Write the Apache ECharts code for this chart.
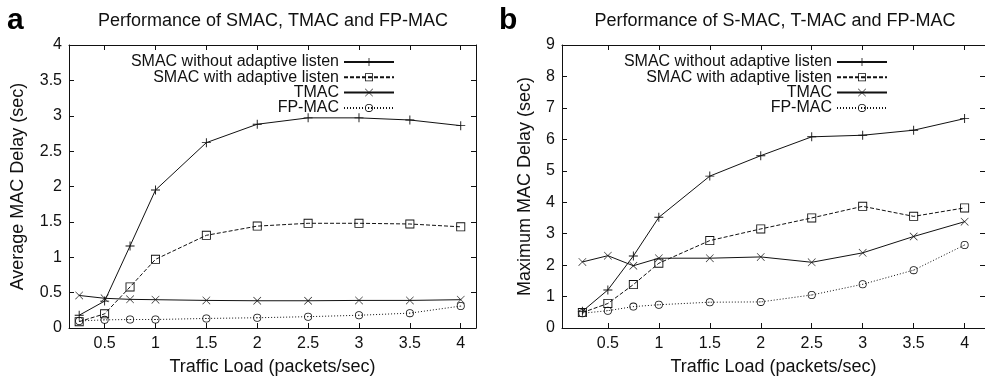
<!DOCTYPE html>
<html>
<head>
<meta charset="utf-8">
<script src="https://cdn.jsdelivr.net/npm/echarts@6/dist/echarts.min.js"></script>
<style>
  html, body { margin: 0; padding: 0; background: #fff; }
  #chart { width: 985px; height: 381px; }
</style>
</head>
<body>
<div id="chart"></div>
<script>
const xLoad = [0.25, 0.5, 0.75, 1, 1.5, 2, 2.5, 3, 3.5, 4];
const xTicks = [0.5, 1, 1.5, 2, 2.5, 3, 3.5, 4];

// panel a: average delay
const avgSmacNoAL = [0.18, 0.38, 1.16, 1.95, 2.62, 2.88, 2.97, 2.97, 2.94, 2.86];
const avgSmacAL = [0.09, 0.2, 0.58, 0.97, 1.31, 1.44, 1.48, 1.48, 1.47, 1.43];
const avgTmac = [0.46, 0.42, 0.405, 0.4, 0.39, 0.385, 0.385, 0.39, 0.39, 0.4];
const avgFpmac = [0.1, 0.115, 0.12, 0.12, 0.135, 0.145, 0.16, 0.18, 0.21, 0.31];

// panel b: maximum delay
const maxSmacNoAL = [0.53, 1.21, 2.29, 3.52, 4.83, 5.48, 6.08, 6.13, 6.29, 6.66];
const maxSmacAL = [0.49, 0.78, 1.38, 2.06, 2.78, 3.15, 3.5, 3.87, 3.55, 3.82];
const maxTmac = [2.1, 2.3, 1.98, 2.22, 2.22, 2.26, 2.09, 2.39, 2.91, 3.38];
const maxFpmac = [0.47, 0.55, 0.68, 0.74, 0.82, 0.83, 1.05, 1.39, 1.84, 2.64];

const seriesNames = [
  "SMAC without adaptive listen",
  "SMAC with adaptive listen",
  "TMAC",
  "FP-MAC",
];

const FONT = "Liberation Sans, Arial, sans-serif";
const INK = "#111";

// gnuplot-like point shapes, drawn as thin filled outlines
const SYM_PLUS = "path://M9,0H11V9H20V11H11V20H9V11H0V9H9Z";
const SYM_BOX = "path://M0,0H20V20H0Z M2,2V18H18V2Z";
const SYM_CROSS = "path://M0,1L1,0L10,9L19,0L20,1L11,10L20,19L19,20L10,11L1,20L0,19L9,10Z";
const SYM_CIRC = "path://M10,0A10,10 0 1,1 10,20A10,10 0 1,1 10,0Z M10,2A8,8 0 1,0 10,18A8,8 0 1,0 10,2Z M9,9H11V11H9Z";

const styles = [
  { symbol: SYM_PLUS, size: 9, dash: "solid" },
  { symbol: SYM_BOX, size: 9, dash: [4, 2] },
  { symbol: SYM_CROSS, size: 8, dash: "solid" },
  { symbol: SYM_CIRC, size: 8, dash: [1, 2] },
];

function pairs(ys) {
  return xLoad.map((x, i) => [x, ys[i]]);
}

function makeSeries(panel, arrays) {
  return arrays.map((ys, i) => ({
    name: seriesNames[i],
    type: "line",
    xAxisIndex: panel * 2,
    yAxisIndex: panel * 2,
    data: pairs(ys),
    symbol: styles[i].symbol,
    symbolSize: styles[i].size,
    symbolKeepAspect: true,
    showSymbol: true,
    itemStyle: { color: INK },
    lineStyle: { color: INK, width: 1, type: styles[i].dash },
    emphasis: { disabled: true },
    silent: true,
  }));
}

function xAxes(grid, min, max) {
  const base = {
    gridIndex: grid,
    type: "value",
    min: min,
    max: max,
    splitLine: { show: false },
    axisLine: { show: true, onZero: false, lineStyle: { color: INK, width: 1 } },
    axisTick: { show: true, inside: true, length: 5, customValues: xTicks, lineStyle: { color: INK } },
  };
  return [
    Object.assign({}, base, {
      position: "bottom",
      name: "Traffic Load (packets/sec)",
      nameLocation: "middle",
      nameGap: 30,
      nameTextStyle: { fontFamily: FONT, fontSize: 18, color: INK },
      axisLabel: { customValues: xTicks, margin: 8, fontFamily: FONT, fontSize: 16, color: INK },
    }),
    Object.assign({}, base, { position: "top", axisLabel: { show: false } }),
  ];
}

function yAxes(grid, max, interval, name, gap) {
  const base = {
    gridIndex: grid,
    type: "value",
    min: 0,
    max: max,
    interval: interval,
    splitLine: { show: false },
    axisLine: { show: true, onZero: false, lineStyle: { color: INK, width: 1 } },
    axisTick: { show: true, inside: true, length: 5, lineStyle: { color: INK } },
  };
  return [
    Object.assign({}, base, {
      position: "left",
      name: name,
      nameLocation: "middle",
      nameGap: gap,
      nameTextStyle: { fontFamily: FONT, fontSize: 18, color: INK },
      axisLabel: { margin: 7, fontFamily: FONT, fontSize: 16, color: INK },
    }),
    Object.assign({}, base, { position: "right", axisLabel: { show: false } }),
  ];
}

function legendFor(right) {
  return {
    orient: "vertical",
    align: "right",
    right: right,
    top: 49,
    itemWidth: 50,
    itemHeight: 10,
    itemGap: -0.7,
    selectedMode: false,
    data: seriesNames,
    textStyle: { fontFamily: FONT, fontSize: 16, color: INK },
  };
}

const chart = echarts.init(document.getElementById("chart"), null, { renderer: "canvas" });

chart.setOption({
  animation: false,
  backgroundColor: "#fff",
  grid: [
    { left: 69, top: 45, width: 407, height: 286 },
    { left: 562, top: 45, width: 425, height: 286 },
  ],
  xAxis: [].concat(xAxes(0, 0.15, 4.15), xAxes(1, 0.05, 4.2)),
  yAxis: [].concat(
    yAxes(0, 4, 0.5, "Average MAC Delay (sec)", 42),
    yAxes(1, 9, 1, "Maximum MAC Delay (sec)", 28)
  ),
  legend: [legendFor(585), legendFor(92)],
  series: [].concat(
    makeSeries(0, [avgSmacNoAL, avgSmacAL, avgTmac, avgFpmac]),
    makeSeries(1, [maxSmacNoAL, maxSmacAL, maxTmac, maxFpmac])
  ),
  graphic: [
    { type: "text", x: 7, y: 21, style: { text: "a", font: "bold 30px " + FONT, fill: "#000", textVerticalAlign: "middle" } },
    { type: "text", x: 499, y: 21, style: { text: "b", font: "bold 30px " + FONT, fill: "#000", textVerticalAlign: "middle" } },
    { type: "text", x: 273, y: 21, style: { text: "Performance of SMAC, TMAC and FP-MAC", font: "18px " + FONT, fill: INK, textAlign: "center", textVerticalAlign: "middle" } },
    { type: "text", x: 775, y: 21, style: { text: "Performance of S-MAC, T-MAC and FP-MAC", font: "18px " + FONT, fill: INK, textAlign: "center", textVerticalAlign: "middle" } },
  ],
});
</script>
</body>
</html>
